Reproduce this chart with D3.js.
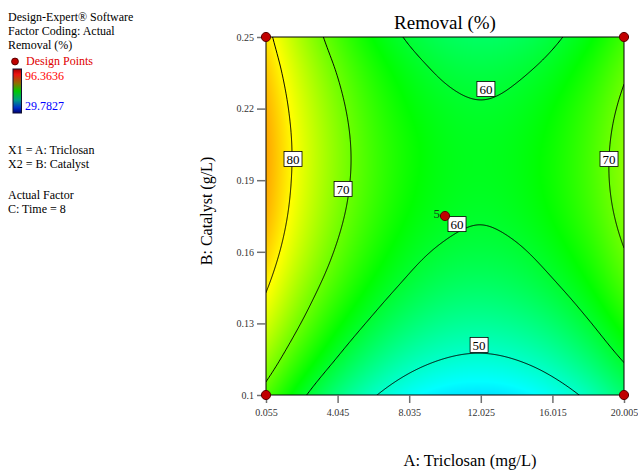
<!DOCTYPE html>
<html><head><meta charset="utf-8">
<script src="https://cdn.jsdelivr.net/npm/d3@7"></script>
<style>body{margin:0;background:#fff}text{font-family:"Liberation Serif","Times New Roman",serif}</style>
</head><body>
<script>
// ---------- data ----------
const xGrid = [0.055, 2.05, 4.045, 6.04, 8.035, 10.03, 12.025, 14.02, 16.015, 18.01, 20.005]; // A: Triclosan (mg/L)
const yGrid = [0.1, 0.115, 0.13, 0.145, 0.16, 0.175, 0.19, 0.205, 0.22, 0.235, 0.25];          // B: Catalyst (g/L)
// Removal (%) at each (yGrid row, xGrid column)
const removal = [
  [68.2, 60.9, 54.9, 50.4, 47.1, 45.2, 44.7, 45.4, 47.6, 51.0, 55.8],
  [73.0, 65.7, 59.7, 55.1, 51.8, 49.9, 49.3, 50.1, 52.2, 55.7, 60.4],
  [77.1, 69.8, 63.7, 59.1, 55.8, 53.8, 53.2, 54.0, 56.1, 59.6, 64.3],
  [80.4, 73.0, 67.0, 62.3, 59.0, 57.0, 56.4, 57.2, 59.3, 62.7, 67.5],
  [82.9, 75.5, 69.4, 64.7, 61.3, 59.4, 58.8, 59.5, 61.6, 65.0, 69.8],
  [84.6, 77.1, 71.0, 66.3, 62.9, 61.0, 60.3, 61.1, 63.2, 66.6, 71.3],
  [85.4, 77.9, 71.8, 67.1, 63.7, 61.7, 61.1, 61.8, 63.9, 67.3, 72.0],
  [85.5, 78.0, 71.9, 67.1, 63.8, 61.7, 61.1, 61.8, 63.8, 67.2, 71.9],
  [84.8, 77.3, 71.2, 66.4, 63.0, 61.0, 60.3, 61.0, 63.0, 66.4, 71.0],
  [83.4, 75.9, 69.8, 65.0, 61.6, 59.5, 58.8, 59.5, 61.4, 64.7, 69.4],
  [81.4, 73.9, 67.7, 62.9, 59.5, 57.4, 56.6, 57.2, 59.2, 62.4, 67.0]
];
const contourLevels = [50, 60, 70, 80];
const contourLabels = [
  {level: 80, x: 1.56,  y: 0.1989},
  {level: 70, x: 4.35,  y: 0.1863},
  {level: 60, x: 12.31, y: 0.2282},
  {level: 60, x: 10.70, y: 0.1716},
  {level: 50, x: 11.93, y: 0.1210},
  {level: 70, x: 19.17, y: 0.1989}
];
const designX = [0.055, 20.005, 0.055, 20.005, 10.03];
const designY = [0.1, 0.1, 0.25, 0.25, 0.175];
const designCount = [1, 1, 1, 1, 5];
const xTicks = [0.055, 4.045, 8.035, 12.025, 16.015, 20.005];
const xTickLabels = ["0.055", "4.045", "8.035", "12.025", "16.015", "20.005"];
const yTicks = [0.1, 0.13, 0.16, 0.19, 0.22, 0.25];
const yTickLabels = ["0.1", "0.13", "0.16", "0.19", "0.22", "0.25"];
const responseMin = 29.7827, responseMax = 96.3636;
const legendLines1 = ["Design-Expert\u00ae Software", "Factor Coding: Actual", "Removal (%)"];
const legendLines2 = ["X1 = A: Triclosan", "X2 = B: Catalyst"];
const legendLines3 = ["Actual Factor", "C: Time = 8"];

// ---------- layout ----------
const L = 266, T = 37, W = 358, H = 358;
const svg = d3.select("body").append("svg").attr("width", 638).attr("height", 472);
const x = d3.scaleLinear().domain([xGrid[0], xGrid[xGrid.length - 1]]).range([L, L + W]);
const y = d3.scaleLinear().domain([yGrid[0], yGrid[yGrid.length - 1]]).range([T + H, T]);
const color = d3.scaleLinear()
  .domain(d3.range(5).map(i => responseMin + i * (responseMax - responseMin) / 4))
  .range(["#0000ff", "#00ffff", "#00ff00", "#ffff00", "#ff0000"]);

// smooth (bicubic) rendering of the grid
const nx = xGrid.length, ny = yGrid.length;
function G(i, j) {
  if (i < 0) return 2 * G(0, j) - G(1, j);
  if (i > nx - 1) return 2 * G(nx - 1, j) - G(nx - 2, j);
  if (j < 0) return 2 * G(i, 0) - G(i, 1);
  if (j > ny - 1) return 2 * G(i, ny - 1) - G(i, ny - 2);
  return removal[j][i];
}
const cr = (p0, p1, p2, p3, t) => 0.5 * (2 * p1 + (-p0 + p2) * t + (2 * p0 - 5 * p1 + 4 * p2 - p3) * t * t + (-p0 + 3 * p1 - 3 * p2 + p3) * t * t * t);
function surf(u, v) {
  const i = Math.min(Math.floor(u), nx - 2), t = u - i;
  const j = Math.min(Math.floor(v), ny - 2), s = v - j;
  const r = [-1, 0, 1, 2].map(k => cr(G(i - 1, j + k), G(i, j + k), G(i + 1, j + k), G(i + 2, j + k), t));
  return cr(r[0], r[1], r[2], r[3], s);
}
const n = W;
const vals = new Array(n * n);
for (let r = 0; r < n; r++) for (let c = 0; c < n; c++)
  vals[r * n + c] = surf(c / (n - 1) * (nx - 1), (1 - r / (n - 1)) * (ny - 1));

const cv = document.createElement("canvas"); cv.width = n; cv.height = n;
const ctx = cv.getContext("2d"); const img = ctx.createImageData(n, n);
vals.forEach((v, k) => { const c = d3.rgb(color(v)); img.data[k*4] = c.r; img.data[k*4+1] = c.g; img.data[k*4+2] = c.b; img.data[k*4+3] = 255; });
ctx.putImageData(img, 0, 0);
svg.append("image").attr("x", L).attr("y", T).attr("width", W).attr("height", H)
  .attr("preserveAspectRatio", "none").attr("href", cv.toDataURL());

svg.append("clipPath").attr("id", "clip").append("rect").attr("x", L).attr("y", T).attr("width", W).attr("height", H);
const sx = d3.scaleLinear().domain([0.5, n - 0.5]).range([L, L + W]);
const sy = d3.scaleLinear().domain([0.5, n - 0.5]).range([T, T + H]);
const path = d3.geoPath(d3.geoTransform({point(px, py) { this.stream.point(sx(px), sy(py)); }}));
const cs = d3.contours().size([n, n]).thresholds(contourLevels)(vals);
svg.append("g").attr("clip-path", "url(#clip)").selectAll("path").data(cs).join("path")
  .attr("d", path).attr("fill", "none").attr("stroke", "#000").attr("stroke-width", 1);

// frame
svg.append("rect").attr("x", L).attr("y", T).attr("width", W).attr("height", H)
  .attr("fill", "none").attr("stroke", "#000").attr("stroke-width", 1);

// axes
const xa = svg.append("g").attr("transform", `translate(0,${T + H})`)
  .call(d3.axisBottom(x).tickValues(xTicks).tickFormat((d, i) => xTickLabels[i]).tickSize(8).tickSizeOuter(0).tickPadding(6));
const ya = svg.append("g").attr("transform", `translate(${L},0)`)
  .call(d3.axisLeft(y).tickValues(yTicks).tickFormat((d, i) => yTickLabels[i]).tickSize(9).tickSizeOuter(0).tickPadding(3));
[xa, ya].forEach(a => {
  a.select(".domain").remove();
  a.selectAll(".tick line").attr("stroke", "#707070").attr("stroke-width", 1.5);
  a.selectAll(".tick text").attr("font-family", "Liberation Serif").attr("font-size", 10).attr("fill", "#333");
});

// contour labels
const lab = svg.append("g").selectAll("g").data(contourLabels).join("g")
  .attr("transform", d => `translate(${x(d.x)},${y(d.y)})`);
lab.append("rect").attr("x", -9).attr("y", -7.5).attr("width", 18).attr("height", 15)
  .attr("fill", "#fff").attr("stroke", "#000").attr("stroke-width", 0.8);
lab.append("text").attr("text-anchor", "middle").attr("y", 4.8).attr("font-size", 13).text(d => d.level);

// design points
const dp = designX.map((d, i) => ({x: d, y: designY[i], c: designCount[i]}));
svg.append("g").selectAll("circle").data(dp).join("circle")
  .attr("cx", d => x(d.x)).attr("cy", d => y(d.y)).attr("r", 4.6)
  .attr("fill", "#c00000").attr("stroke", "#5a0000").attr("stroke-width", 1);
svg.append("g").selectAll("text").data(dp.filter(d => d.c > 1)).join("text")
  .attr("x", d => x(d.x) - 5).attr("y", d => y(d.y) + 2).attr("text-anchor", "end")
  .attr("font-size", 13).attr("fill", "#1a3a1a").text(d => d.c);

// titles
svg.append("text").attr("x", L + W / 2).attr("y", 29).attr("text-anchor", "middle").attr("font-size", 19).text("Removal (%)");
svg.append("text").attr("x", 470).attr("y", 466).attr("text-anchor", "middle").attr("font-size", 16.5).text("A: Triclosan (mg/L)");
svg.append("text").attr("transform", "translate(212,211) rotate(-90)").attr("text-anchor", "middle").attr("font-size", 16).text("B: Catalyst (g/L)");

// legend
const lg = svg.append("g").attr("font-size", 12);
legendLines1.forEach((t, i) => lg.append("text").attr("x", 8).attr("y", 21 + i * 14).text(t));
lg.append("circle").attr("cx", 15).attr("cy", 61.5).attr("r", 3.4).attr("fill", "#c00000").attr("stroke", "#5a0000");
lg.append("text").attr("x", 26).attr("y", 65).attr("fill", "#e00000").text("Design Points");
const grad = svg.append("defs").append("linearGradient").attr("id", "lgrad").attr("x1", 0).attr("y1", 0).attr("x2", 0).attr("y2", 1);
[[0, "#a00000"], [0.12, "#ee1010"], [0.33, "#8a7000"], [0.5, "#00c800"], [0.7, "#00a080"], [0.88, "#0030c8"], [1, "#000070"]]
  .forEach(([o, c]) => grad.append("stop").attr("offset", o).attr("stop-color", c));
lg.append("rect").attr("x", 13).attr("y", 69).attr("width", 8.5).attr("height", 44).attr("fill", "url(#lgrad)").attr("stroke", "#101030").attr("stroke-width", 1);
lg.append("text").attr("x", 25).attr("y", 80).attr("fill", "#ff0000").text(responseMax.toString());
lg.append("text").attr("x", 25).attr("y", 110).attr("fill", "#0000ff").text(responseMin.toString());
legendLines2.forEach((t, i) => lg.append("text").attr("x", 8).attr("y", 154 + i * 14).text(t));
legendLines3.forEach((t, i) => lg.append("text").attr("x", 8).attr("y", 199 + i * 14).text(t));
</script>
</body></html>
